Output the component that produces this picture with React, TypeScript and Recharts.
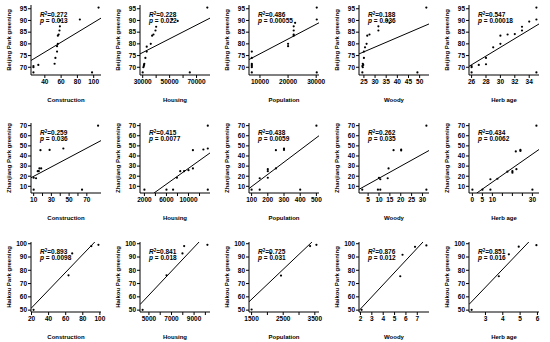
import { ComposedChart, Scatter, Line, XAxis, YAxis } from 'recharts';

const FONT = '"Liberation Sans", Arial, sans-serif';

// x-axis names, same for every row
const factors = ['Construction', 'Housing', 'Population', 'Woody', 'Herb age'];

// Beijing row
const bjConstruction = [[26, 70.5], [26, 70], [26, 67.8], [32, 71], [52, 71.5], [53, 74], [55, 76.7], [55, 79], [56, 80], [56, 83.5], [57, 84], [58, 85.7], [58.5, 87.5], [59, 90], [83, 90.4], [98, 67.8], [106, 95.5]];
const bjHousing = [[30500, 70], [30800, 70.5], [31000, 71], [31200, 71.5], [30000, 67.8], [32000, 74], [33000, 76.7], [33000, 78.8], [36000, 80], [37000, 83.5], [38000, 84], [39500, 85.7], [40000, 87.3], [52000, 90.5], [56000, 89.8], [65000, 67.8], [78000, 95.5]];
const bjPopulation = [[7100, 76.7], [7100, 74], [7100, 71.5], [7100, 71], [7100, 70.5], [7100, 70], [7100, 67.8], [20000, 80], [20000, 79], [22000, 83.5], [22000, 84], [22000, 85.7], [22000, 87.5], [22500, 89], [30200, 95.5], [30200, 90.4], [30200, 67.8]];
const bjWoody = [[24.3, 67.8], [24.5, 70], [24.3, 70.5], [24.7, 71], [24.5, 71.5], [25, 74], [25, 76.7], [25.5, 78.5], [26.2, 80], [26.5, 83.5], [27.5, 84], [31.5, 85.7], [31.5, 87.5], [35.5, 90], [36.5, 89], [49, 67.8], [53, 95.5]];
const bjHerb = [[26, 70.5], [26, 70], [26, 67.8], [27, 71], [28, 71.3], [28, 74], [29, 78.5], [30, 80], [30, 83.5], [31, 84], [32, 84.2], [33, 85.7], [33, 87.3], [34, 89.5], [35, 95.5], [35, 90.4], [35, 67.8]];

// Zhanjiang row
const zjConstruction = [[10, 6.7], [10, 18.5], [12.7, 18], [14.6, 25], [15.8, 25], [16.5, 27.7], [18.5, 27.7], [17.7, 45.7], [28, 46], [43.5, 47.4], [64.6, 6.7], [82.7, 70]];
const zjHousing = [[2000, 6.7], [6000, 6.7], [7200, 6.7], [7900, 18.5], [8500, 25], [9200, 25], [10000, 26], [10800, 27.7], [10800, 45.7], [12700, 46.4], [13500, 47.4], [13500, 70], [13500, 6.7]];
const zjPopulation = [[100, 6.7], [150, 6.7], [150, 18], [200, 18.5], [200, 25], [200, 27], [250, 27.7], [250, 45.7], [300, 46], [300, 47.4], [400, 6.7], [500, 70]];
const zjWoody = [[2.3, 6.7], [9.5, 6.7], [10.6, 6.7], [10, 18.5], [10.6, 17], [14, 18], [14.4, 27.7], [16.7, 45.7], [20.2, 46.4], [20.2, 45.4], [31.8, 70], [31.8, 6.7]];
const zjHerb = [[0, 6.7], [5, 6.7], [9, 6.7], [9, 17], [12.5, 17.5], [17.5, 24.5], [20, 25], [20, 23.5], [22, 27], [21.7, 44.5], [24, 46], [24, 45], [30, 6.7], [32, 70]];

// Haikou row
const hkConstruction = [[22.4, 50.2], [63.3, 76.2], [67.6, 92.7], [90, 98.2], [98.3, 99.2]];
const hkHousing = [[4440, 50.2], [6560, 76.2], [7970, 92.7], [8120, 98.2], [10180, 99.2]];
const hkPopulation = [[1500, 50.5], [2430, 76], [2100, 92.7], [3350, 98.2], [3550, 99.2]];
const hkWoody = [[2.1, 50.2], [5.5, 75.5], [5.7, 91.7], [6.8, 97.7], [7.8, 98.7]];
const hkHerb = [[2.2, 50.2], [3.77, 75.5], [4.35, 92], [4.92, 97.8], [5.94, 98.9]];

// fitted lines, read at the plot edges
const bjFits = [[[23, 72.9], [109, 91]], [[28000, 75.7], [80000, 91]], [[6100, 73.3], [31000, 89]], [[22.8, 75.7], [54.2, 88.5]], [[25.64, 70.4], [35.36, 88.5]]];
const zjFits = [[[7, 18.5], [86, 55.2]], [[3750, 3.4], [13900, 43]], [[84, 7.8], [516, 60]], [[0.8, 7], [33, 45.4]], [[2.2, 3.4], [33.3, 46.4]]];
const hkFits = [[[19.4, 51.3], [94, 101.3]], [[4210, 54.2], [9440, 101.3]], [[1418, 56.3], [3410, 101.3]], [[1.87, 49.7], [7.5, 101.3]], [[2.05, 54.3], [5.5, 101.3]]];

// R squared and p values
const bjR2 = ['0.272', '0.228', '0.486', '0.188', '0.547'];
const bjP = ['0.013', '0.022', '0.00055', '0.036', '0.00018'];
const zjR2 = ['0.259', '0.415', '0.438', '0.262', '0.434'];
const zjP = ['0.036', '0.0077', '0.0059', '0.035', '0.0062'];
const hkR2 = ['0.893', '0.841', '0.725', '0.876', '0.851'];
const hkP = ['0.0098', '0.018', '0.031', '0.012', '0.016'];

// axes
const bjXDomains = [[23, 109], [28000, 80000], [6100, 31000], [22.8, 54.2], [25.64, 35.36]];
const zjXDomains = [[7, 86], [1200, 13900], [84, 516], [0.8, 33], [-1.7, 33.3]];
const hkXDomains = [[19.4, 101.3], [4210, 10410], [1418, 3632], [1.87, 8.03], [2.05, 6.09]];
const bjXTicks = [[40, 60, 80, 100], [30000, 40000, 50000, 60000, 70000], [10000, 20000, 30000], [25, 30, 35, 40, 45, 50], [26, 28, 30, 32, 34]];
const zjXTicks = [[10, 20, 30, 40, 50, 60, 70], [2000, 4000, 6000, 8000, 10000, 12000], [100, 200, 300, 400, 500], [5, 10, 15, 20, 25, 30], [0, 5, 10, 15, 20, 25, 30]];
const hkXTicks = [[20, 40, 60, 80, 100], [5000, 6000, 7000, 8000, 9000, 10000], [1500, 2000, 2500, 3000, 3500], [2, 3, 4, 5, 6, 7], [3, 4, 5, 6]];
const bjXShown = [[40, 60, 80, 100], [30000, 50000, 70000], [10000, 20000, 30000], [25, 30, 35, 40, 45, 50], [26, 28, 30, 32, 34]];
const zjXShown = [[10, 30, 50, 70], [2000, 6000, 10000], [100, 200, 300, 400, 500], [5, 10, 15, 20, 25, 30], [0, 5, 10, 30]];
const hkXShown = [[20, 40, 60, 80, 100], [5000, 7000, 9000], [1500, 2500, 3500], [2, 3, 4, 5, 6, 7], [3, 4, 5, 6]];

const rows = [
  { city: 'Beijing', yDomain: [66.7, 96.6], yTicks: [70, 75, 80, 85, 90, 95], series: [bjConstruction, bjHousing, bjPopulation, bjWoody, bjHerb], fits: bjFits, r2: bjR2, p: bjP, xDomains: bjXDomains, xTicks: bjXTicks, xShown: bjXShown },
  { city: 'Zhanjiang', yDomain: [3.4, 72.6], yTicks: [10, 20, 30, 40, 50, 60, 70], series: [zjConstruction, zjHousing, zjPopulation, zjWoody, zjHerb], fits: zjFits, r2: zjR2, p: zjP, xDomains: zjXDomains, xTicks: zjXTicks, xShown: zjXShown },
  { city: 'Haikou', yDomain: [48.6, 101.3], yTicks: [50, 60, 70, 80, 90, 100], series: [hkConstruction, hkHousing, hkPopulation, hkWoody, hkHerb], fits: hkFits, r2: hkR2, p: hkP, xDomains: hkXDomains, xTicks: hkXTicks, xShown: hkXShown },
];

const colLeft = [1, 110, 219, 329, 439];
const rowTop = [0, 118, 237];

const tickStyle = { fill: '#000', fontSize: 6.5, fontWeight: 700, fontFamily: FONT };
const labelStyle = { fill: '#000', fontSize: 6, fontWeight: 700, fontFamily: FONT, textAnchor: 'middle' as const };

const Dot = (props: any) => <circle cx={props.cx} cy={props.cy} r={1.1} fill="#000" />;

const Panel = ({ row, col }: { row: number; col: number }) => {
  const r = rows[row];
  const pts = r.series[col].map(([x, y]) => ({ x, y }));
  const fit = r.fits[col].map(([x, y]) => ({ x, y }));
  const shown = r.xShown[col];
  const left = colLeft[col];
  const top = rowTop[row];
  return (
    <div style={{ position: 'absolute', left, top, width: 110, height: 118 }}>
      <ComposedChart width={110} height={118} margin={{ top: 5, right: 10, bottom: 0, left: 0 }}>
        <XAxis
          type="number"
          dataKey="x"
          domain={r.xDomains[col]}
          ticks={r.xTicks[col]}
          interval={0}
          allowDataOverflow
          height={43}
          tickSize={3}
          tickMargin={1}
          stroke="#000"
          tick={tickStyle}
          tickFormatter={(v: number) => (shown.includes(v) ? String(v) : '')}
          label={{ value: factors[col], position: 'insideBottom', offset: 16, style: labelStyle }}
        />
        <YAxis
          type="number"
          dataKey="y"
          domain={r.yDomain}
          ticks={r.yTicks}
          interval={0}
          allowDataOverflow
          width={30}
          tickSize={3}
          tickMargin={1}
          stroke="#000"
          tick={tickStyle}
          label={{ value: `${r.city} Park greening`, angle: -90, position: 'insideLeft', offset: 8, style: labelStyle }}
        />
        <XAxis xAxisId="top" orientation="top" type="number" domain={[0, 1]} height={0} tick={false} tickLine={false} stroke="#000" />
        <YAxis yAxisId="right" orientation="right" type="number" domain={[0, 1]} width={0} tick={false} tickLine={false} stroke="#000" />
        <Scatter data={pts} dataKey="y" shape={Dot} isAnimationActive={false} />
        <Line data={fit} dataKey="y" dot={false} stroke="#000" strokeWidth={1} isAnimationActive={false} />
      </ComposedChart>
      <div
        style={{
          position: 'absolute',
          left: 39,
          top: 11,
          fontFamily: FONT,
          fontWeight: 700,
          fontSize: 6.5,
          lineHeight: '6px',
          whiteSpace: 'nowrap',
          color: '#000',
        }}
      >
        <div>
          <i>R</i>
          <span style={{ fontSize: 4.5, verticalAlign: 2 }}>2</span>={r.r2[col]}
        </div>
        <div>
          <i>p</i> = {r.p[col]}
        </div>
      </div>
    </div>
  );
};

export default function App() {
  return (
    <div style={{ position: 'absolute', left: 0, top: 0, width: 550, height: 342, background: '#fff' }}>
      {rows.map((_, ri) => factors.map((_, ci) => <Panel key={`${ri}-${ci}`} row={ri} col={ci} />))}
    </div>
  );
}
